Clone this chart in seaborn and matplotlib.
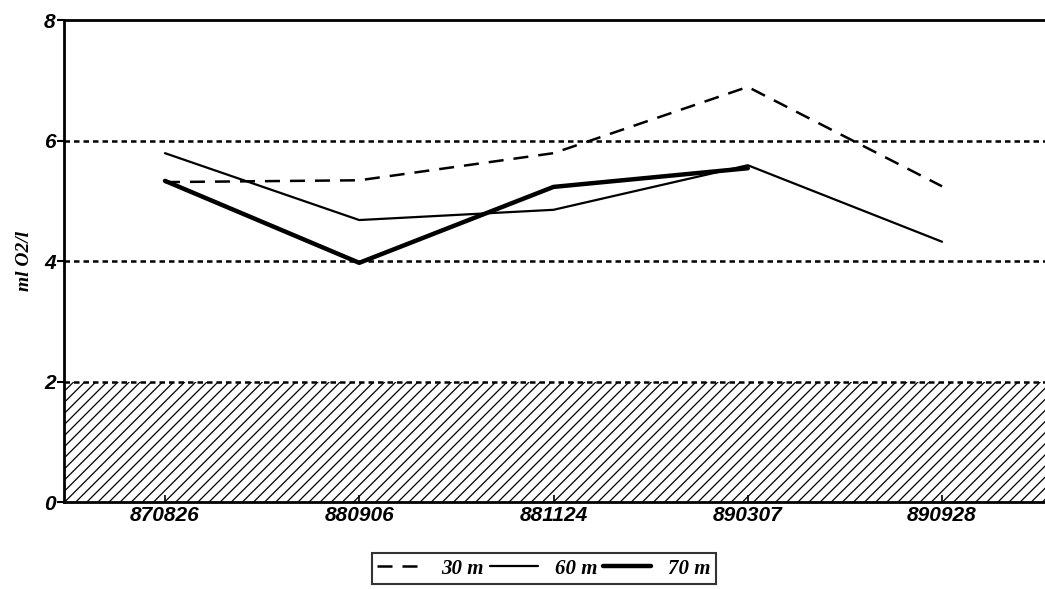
import numpy as np
import pandas as pd
import matplotlib
matplotlib.use("Agg")
import matplotlib.pyplot as plt
import seaborn as sns

dates = ["870826", "880906", "881124", "890307", "890928"]
d30 = [5.31, 5.34, 5.79, 6.89, 5.24]
d60 = [5.79, 4.68, 4.85, 5.59, 4.32]
d70 = [5.33, 3.97, 5.23, 5.54, np.nan]
yticks = [0, 2, 4, 6, 8]
grid_levels = [2, 4, 6]
hatch_top = 2
series_labels = ["30 m", "60 m", "70 m"]

sns.set_theme(style="white")
plt.rcParams["font.family"] = ["Liberation Serif", "DejaVu Serif"]
plt.rcParams["hatch.linewidth"] = 0.9
plt.rcParams["text.color"] = "black"
plt.rcParams["xtick.color"] = "black"
plt.rcParams["ytick.color"] = "black"
plt.rcParams["axes.labelcolor"] = "black"

fig = plt.figure(figsize=(10.45, 5.89), dpi=100)
ax = fig.add_axes([0.0612, 0.1477, 0.9388, 0.8183])

xpos = np.arange(len(dates))
df = pd.DataFrame({"x": np.tile(xpos, 3),
                   "y": d30 + d60 + d70,
                   "series": np.repeat(series_labels, len(dates))})

# hatched band 0-2
ax.fill_between([-0.6, 4.7], 0, hatch_top, facecolor="none", edgecolor="black",
                hatch="///", linewidth=0, zorder=0)
for g in grid_levels:
    ax.axhline(g, color="black", linestyle=(0, (2.2, 1.6)), linewidth=1.8, zorder=1)

styles = {"30 m": dict(linestyle=(0, (6, 4)), linewidth=1.8),
          "60 m": dict(linestyle="-", linewidth=1.6),
          "70 m": dict(linestyle="-", linewidth=3.2)}
for s in series_labels:
    sub = df[df["series"] == s]
    sns.lineplot(data=sub, x="x", y="y", ax=ax, color="black", label=s,
                 estimator=None, sort=False, zorder=3, **styles[s])

ax.set_xlim(-0.52, 4.53)
ax.set_ylim(0, 8)
ax.set_xticks(xpos)
ax.set_xticklabels(dates)
ax.set_yticks(yticks)
ax.set_yticklabels([str(v) for v in yticks])
for lab in ax.get_xticklabels() + ax.get_yticklabels():
    lab.set_family(["Liberation Sans", "DejaVu Sans"])
    lab.set_fontsize(15)
    lab.set_fontweight("bold")
    lab.set_fontstyle("italic")
    lab.set_color("black")
ax.tick_params(axis="y", left=True, length=5, width=1.5, color="black", pad=1)
ax.tick_params(axis="x", bottom=True, direction="in", length=5, width=1.2,
               color="black", pad=3)
ax.set_xlabel("")
ax.set_ylabel("ml O2/l", fontsize=14, fontweight="bold", fontstyle="italic",
              labelpad=8, color="black")

for side in ["left", "top", "bottom"]:
    ax.spines[side].set_visible(True)
    ax.spines[side].set_color("black")
    ax.spines[side].set_linewidth(2)
ax.spines["right"].set_visible(False)

leg = ax.legend(loc="upper center", bbox_to_anchor=(0.489, -0.085), ncol=3,
                frameon=True, fancybox=False, edgecolor="black",
                prop={"family": "Liberation Serif", "weight": "bold",
                      "style": "italic", "size": 15},
                handlelength=2.3, handletextpad=0.8, columnspacing=0.3,
                borderpad=0.25)
leg.get_frame().set_linewidth(1.5)
for t in leg.get_texts():
    t.set_color("black")

fig.savefig("out.png", dpi=100, facecolor="white")
